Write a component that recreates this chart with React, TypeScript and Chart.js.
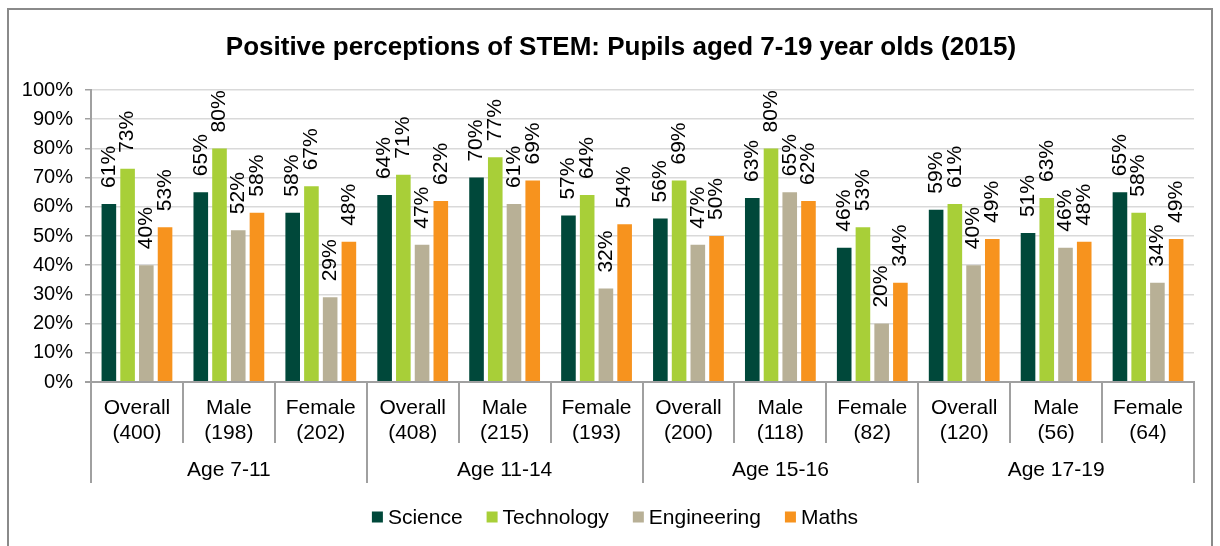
import React, { useEffect, useRef } from "react";
import { Chart, registerables } from "chart.js";

Chart.register(...registerables);

const titleText = "Positive perceptions of STEM: Pupils aged 7-19 year olds (2015)";
const catLine1 = ["Overall", "Male", "Female", "Overall", "Male", "Female", "Overall", "Male", "Female", "Overall", "Male", "Female"];
const catLine2 = ["(400)", "(198)", "(202)", "(408)", "(215)", "(193)", "(200)", "(118)", "(82)", "(120)", "(56)", "(64)"];
const groups = ["Age 7-11", "Age 11-14", "Age 15-16", "Age 17-19"];
const seriesNames = ["Science", "Technology", "Engineering", "Maths"];
const seriesColors = ["#00483a", "#a8cf38", "#b8b096", "#f7931e"];
const science = [61, 65, 58, 64, 70, 57, 56, 63, 46, 59, 51, 65];
const technology = [73, 80, 67, 71, 77, 64, 69, 80, 53, 61, 63, 58];
const engineering = [40, 52, 29, 47, 61, 32, 47, 65, 20, 40, 46, 34];
const maths = [53, 58, 48, 62, 69, 54, 50, 62, 34, 49, 48, 49];
const yTicks = [0, 10, 20, 30, 40, 50, 60, 70, 80, 90, 100];

const FONT = '"Liberation Sans", Arial, sans-serif';
const AXIS = "#a0a0a0";
const GRID = "#d9d9d9";

const decorPlugin = {
  id: "decor",
  beforeDraw(chart: any) {
    const ctx = chart.ctx;
    ctx.save();
    ctx.fillStyle = "#ffffff";
    ctx.fillRect(0, 0, chart.width, chart.height);
    ctx.strokeStyle = "#8a8a8a";
    ctx.lineWidth = 2;
    ctx.strokeRect(8, 9, 1204, 600);
    ctx.restore();
  },
  afterDatasetsDraw(chart: any) {
    const ctx = chart.ctx;
    ctx.save();
    ctx.fillStyle = "#000";
    ctx.font = `21px ${FONT}`;
    ctx.textAlign = "left";
    ctx.textBaseline = "middle";
    chart.data.datasets.forEach((ds: any, di: number) => {
      const meta = chart.getDatasetMeta(di);
      meta.data.forEach((el: any, i: number) => {
        ctx.save();
        ctx.translate(el.x, el.y - 16);
        ctx.rotate(-Math.PI / 2);
        ctx.fillText(ds.data[i] + "%", 0, 0);
        ctx.restore();
      });
    });
    ctx.restore();
  },
  afterDraw(chart: any) {
    const ctx = chart.ctx;
    const xs = chart.scales.x;
    const area = chart.chartArea;
    const n = catLine1.length;
    const bounds: number[] = [];
    for (let i = 0; i <= n; i++) {
      if (i === 0) bounds.push(area.left);
      else if (i === n) bounds.push(area.right);
      else bounds.push((xs.getPixelForValue(i - 1) + xs.getPixelForValue(i)) / 2);
    }
    ctx.save();
    ctx.strokeStyle = AXIS;
    ctx.lineWidth = 2;
    for (let i = 0; i <= n; i++) {
      const x = Math.round(bounds[i]);
      const len = i % 3 === 0 ? 101 : 61;
      ctx.beginPath();
      ctx.moveTo(x, area.bottom);
      ctx.lineTo(x, area.bottom + len);
      ctx.stroke();
    }
    ctx.fillStyle = "#000";
    ctx.font = `21px ${FONT}`;
    ctx.textAlign = "center";
    ctx.textBaseline = "middle";
    for (let i = 0; i < n; i++) {
      const cx = xs.getPixelForValue(i);
      ctx.fillText(catLine1[i], cx, area.bottom + 26);
      ctx.fillText(catLine2[i], cx, area.bottom + 51);
    }
    groups.forEach((g, gi) => {
      const cx = (bounds[gi * 3] + bounds[gi * 3 + 3]) / 2;
      ctx.fillText(g, cx, area.bottom + 88);
    });
    ctx.font = `bold 26px ${FONT}`;
    ctx.textBaseline = "alphabetic";
    ctx.fillText(titleText, 621, 55);
    ctx.font = `21px ${FONT}`;
    ctx.textAlign = "left";
    ctx.textBaseline = "middle";
    const box = 11, gapText = 5, gapItem = 24;
    const widths = seriesNames.map((s) => box + gapText + ctx.measureText(s).width);
    const total = widths.reduce((a, b) => a + b, 0) + gapItem * (widths.length - 1);
    let lx = 615 - total / 2;
    const ly = 517;
    seriesNames.forEach((s, i) => {
      ctx.fillStyle = seriesColors[i];
      ctx.fillRect(lx, ly - box / 2, box, box);
      ctx.fillStyle = "#000";
      ctx.fillText(s, lx + box + gapText, ly + 1);
      lx += widths[i] + gapItem;
    });
    ctx.restore();
  },
};

export default function App() {
  const ref = useRef<HTMLCanvasElement>(null);
  useEffect(() => {
    if (!ref.current) return;
    const seriesData = [science, technology, engineering, maths];
    const chart = new Chart(ref.current, {
      type: "bar",
      data: {
        labels: catLine1.map((c, i) => `${c} ${catLine2[i]}`),
        datasets: seriesNames.map((name, i) => ({
          label: name,
          data: seriesData[i],
          backgroundColor: seriesColors[i],
          borderWidth: 0,
          categoryPercentage: 0.815,
          barPercentage: 0.78,
        })),
      },
      options: {
        responsive: false,
        animation: false,
        devicePixelRatio: 1,
        layout: { padding: { top: 90, left: 0, right: 26, bottom: 0 } },
        plugins: {
          legend: { display: false },
          title: { display: false },
          tooltip: { enabled: false },
        },
        scales: {
          x: {
            grid: { display: false },
            border: { display: true, color: AXIS, width: 2 },
            ticks: { display: false },
            afterFit: (scale: any) => {
              scale.height = 164;
            },
          },
          y: {
            min: 0,
            max: 100,
            afterBuildTicks: (scale: any) => {
              scale.ticks = yTicks.map((v) => ({ value: v }));
            },
            ticks: {
              callback: (v: any) => v + "%",
              color: "#000",
              font: { size: 20, family: FONT },
              padding: 12,
            },
            grid: {
              color: (c: any) => (c.tick && c.tick.value === 0 ? AXIS : GRID),
              lineWidth: (c: any) => (c.tick && c.tick.value === 0 ? 2 : 1.5),
              tickColor: AXIS,
              tickLength: 6,
            },
            border: { display: true, color: AXIS, width: 2 },
            afterFit: (scale: any) => {
              scale.width = 91;
            },
          },
        },
      },
      plugins: [decorPlugin],
    });
    return () => chart.destroy();
  }, []);
  return (
    <div style={{ position: "absolute", left: 0, top: 0, width: 1220, height: 546 }}>
      <canvas ref={ref} width={1220} height={546} />
    </div>
  );
}
